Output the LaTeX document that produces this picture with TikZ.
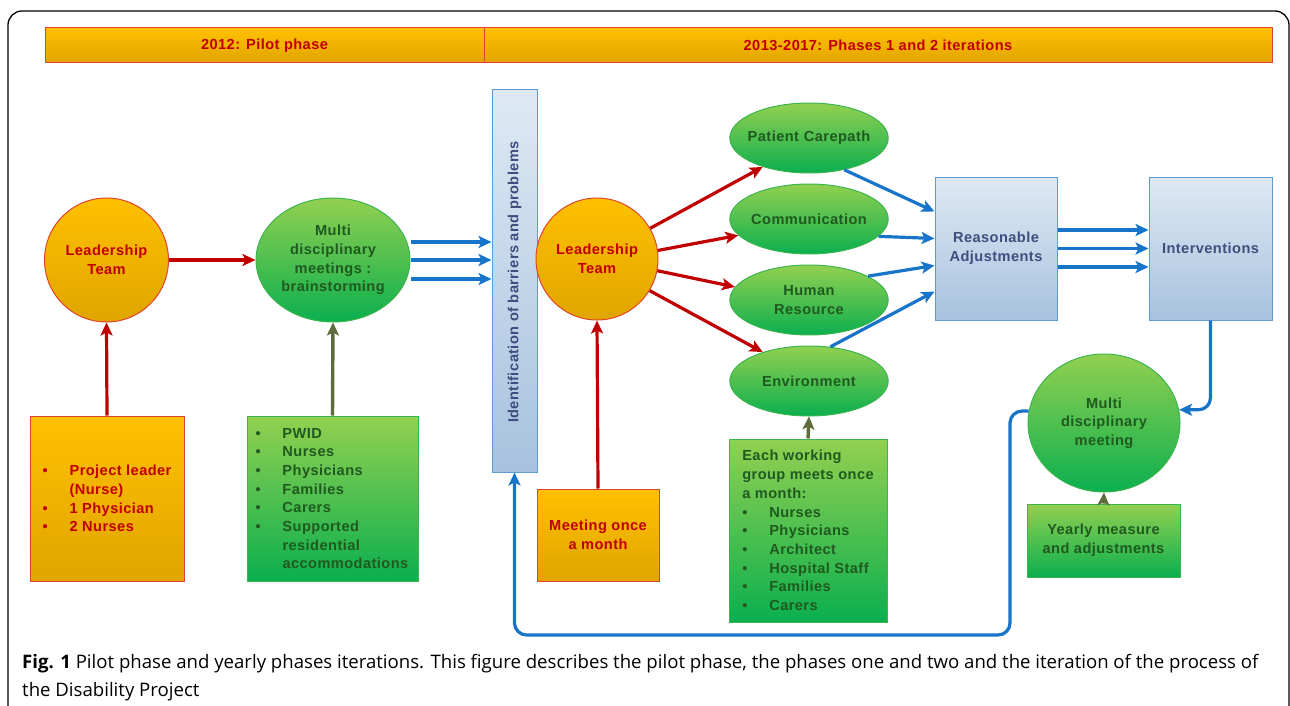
\documentclass[tikz,border=0pt]{standalone}
\usepackage{fontspec}
\setmainfont[LetterSpace=3]{Liberation Sans}
\newfontfamily\capfont{Open Sans}
\usetikzlibrary{shapes.geometric,arrows.meta,calc}

\definecolor{orgtop}{HTML}{FFC000}
\definecolor{orgbot}{HTML}{E0A500}
\definecolor{orgline}{HTML}{E0452A}
\definecolor{orgtext}{HTML}{C00000}
\definecolor{grntop}{HTML}{92D050}
\definecolor{grnbot}{HTML}{0BAF4F}
\definecolor{grnline}{HTML}{3CB450}
\definecolor{grntext}{HTML}{1F5A1F}
\definecolor{blutop}{HTML}{DEE9F4}
\definecolor{blubot}{HTML}{A7C2DE}
\definecolor{bluline}{HTML}{5B9BD5}
\definecolor{blutext}{HTML}{3F4E7E}
\definecolor{arrblue}{HTML}{1874C8}
\definecolor{arrred}{HTML}{C00000}
\definecolor{arrolive}{HTML}{5E6B3B}

\newcommand{\bl}{\makebox[27pt][l]{\textbullet}}
\newcommand{\blind}{\hspace*{27pt}}

\tikzset{
  txt/.style={font=\bfseries\fontsize{14.6}{18.7}\selectfont, align=center, inner sep=0pt},
  orgshape/.style={txt, draw=orgline, line width=1pt, top color=orgtop, bottom color=orgbot, text=orgtext},
  grnshape/.style={txt, draw=grnline, line width=1pt, top color=grntop, bottom color=grnbot, text=grntext},
  blushape/.style={txt, draw=bluline, line width=1pt, top color=blutop, bottom color=blubot, text=blutext},
  topic/.style={grnshape, ellipse, text width=124, inner xsep=-6pt, minimum width=158, minimum height=70},
  tip/.style={-{Stealth[length=13pt,width=12pt,inset=3pt]}},
  redarrow/.style={tip, arrred, line width=3.2pt},
  bluarrow/.style={tip, arrblue, line width=3.2pt},
  olvarrow/.style={tip, arrolive, line width=3.4pt},
}

\begin{document}
\begin{tikzpicture}[x=1pt,y=-1pt]
  \useasboundingbox (0,0) rectangle (1290,706);
  % frame
  \draw [black, line width=1.3pt, rounded corners=14] (8,11) rectangle (1289,760);

  % header bars
  \node [orgshape, minimum width=439, minimum height=35] (hpilot) at (264.5,45.5) {2012: Pilot phase};
  \node [orgshape, minimum width=788, minimum height=35] (hiter) at (878,45.5) {2013-2017: Phases 1 and 2 iterations};

  % pilot phase
  \node [orgshape, circle, minimum size=124] (lead1) at (106.5,260) {Leadership\\Team};
  \node [grnshape, ellipse, minimum width=154, minimum height=124] (mdbrain) at (333,260) {Multi\\disciplinary\\meetings :\\brainstorming};
  \node [orgshape, minimum width=154, minimum height=165, align=left] (pleader) at (107,498.5)
    {\bl Project leader\\\blind(Nurse)\\\bl 1 Physician\\\bl 2 Nurses};
  \node [grnshape, minimum width=171, minimum height=165, align=left, text width=154] (pwid) at (332.5,498.5)
    {\bl PWID\\\bl Nurses\\\bl Physicians\\\bl Families\\\bl Carers\\\bl Supported\\\blind residential\\\blind accommodations};

  % identification bar
  \node [blushape, minimum width=45, minimum height=382] (ident) at (514.5,281) {};
  \node [txt, text=blutext, rotate=90] (identtxt) at (514.5,282) {Identification of barriers and problems};

  % phases 1 and 2
  \node [orgshape, circle, minimum size=122] (lead2) at (597,259) {Leadership\\Team};
  \node [orgshape, minimum width=122, minimum height=92] (monthly) at (598,535) {Meeting once\\a month};
  \node [topic] (care) at (809,138) {Patient Carepath};
  \node [topic] (comm) at (809,219) {Communication};
  \node [topic] (human) at (809,300) {Human\\Resource};
  \node [topic] (envir) at (809,381) {Environment};
  \node [grnshape, minimum width=158, minimum height=183, align=left] (groups) at (808,530.5)
    {Each working\\group meets once\\a month:\\\bl Nurses\\\bl Physicians\\\bl Architect\\\bl Hospital Staff\\\bl Families\\\bl Carers};
  \node [blushape, minimum width=122, minimum height=143] (adjust) at (996,248.5) {Reasonable\\Adjustments};
  \node [blushape, minimum width=123, minimum height=143] (interv) at (1210.5,248.5) {Interventions};
  \node [grnshape, ellipse, minimum width=152, minimum height=138] (mdmeet) at (1104,423) {Multi\\disciplinary\\meeting};
  \node [grnshape, minimum width=153, minimum height=73] (yearly) at (1103.5,540.5) {Yearly measure\\and adjustments};
  \coordinate (loopcorner) at (1010,635);

  % connectors
  \draw [redarrow] (lead1.east) -- (mdbrain.west);
  \draw [redarrow] (pleader.north) -- (lead1.south);
  \draw [olvarrow] (pwid.north) -- (mdbrain.south);
  \foreach \dy in {18,0,-19}
    \draw [bluarrow] ([yshift=\dy pt]mdbrain.east) -- ([yshift=\dy pt]mdbrain.east -| ident.west);
  \draw [redarrow] (monthly.north) -- (lead2.south);
  \draw [redarrow] (lead2.30) -- (care.212);
  \draw [redarrow] (lead2.8) -- (comm.193);
  \draw [redarrow] (lead2.-11) -- (human.170);
  \draw [redarrow] (lead2.-31) -- (envir.148);
  \draw [olvarrow] (groups.north) -- (envir.south);
  \draw [bluarrow] (care.-42) -- ([yshift=-35pt]adjust.north west);
  \draw [bluarrow] (comm.-14) -- ([yshift=-62pt]adjust.north west);
  \draw [bluarrow] (human.22) -- ([yshift=-89pt]adjust.north west);
  \draw [bluarrow] (envir.58) -- ([yshift=-115pt]adjust.north west);
  \foreach \dy in {18.5,0,-18.5}
    \draw [bluarrow] ([yshift=\dy pt]adjust.east) -- ([yshift=\dy pt]interv.west);
  \draw [bluarrow, rounded corners=12] (interv.south) |- (mdmeet.10);
  \draw [olvarrow] (yearly.north) -- (mdmeet.south);
  \draw [bluarrow, rounded corners=12] (mdmeet.171) -| (loopcorner) -| (ident.south);

  % caption
  \node [anchor=base west, inner sep=0pt, font=\capfont\fontsize{18.6}{28}\selectfont] (cap1) at (22,668)
    {\textbf{Fig. 1} Pilot phase and yearly phases iterations. This figure describes the pilot phase, the phases one and two and the iteration of the process of};
  \node [anchor=base west, inner sep=0pt, font=\capfont\fontsize{18.6}{28}\selectfont] (cap2) at (22,696)
    {the Disability Project};
\end{tikzpicture}
\end{document}
